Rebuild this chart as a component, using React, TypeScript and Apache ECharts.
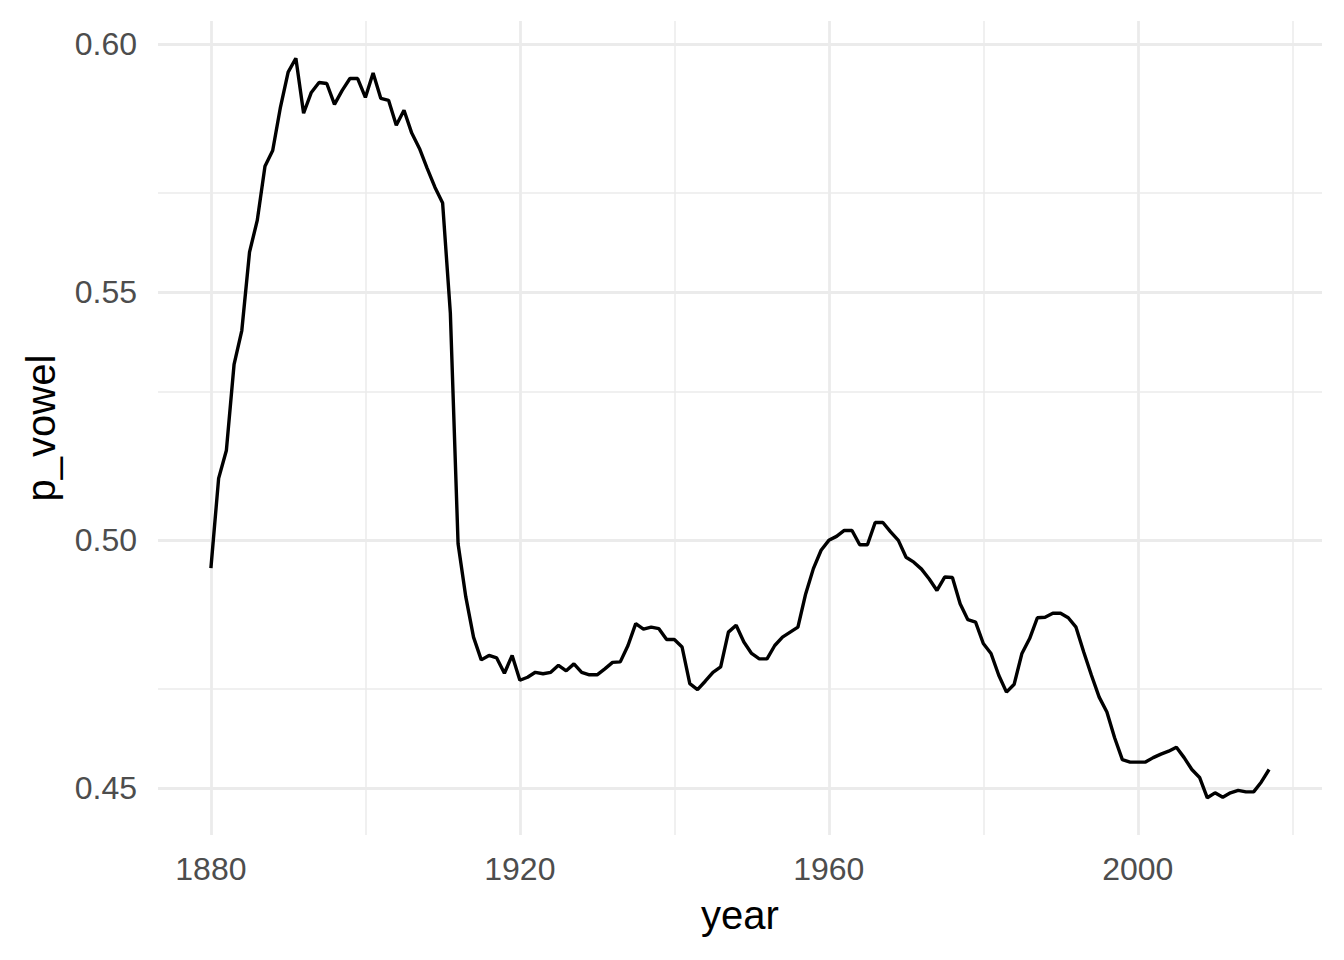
import React, { useEffect, useRef } from "react";
import * as echarts from "echarts";

const years = [
  1880, 1881, 1882, 1883, 1884, 1885, 1886, 1887, 1888, 1889,
  1890, 1891, 1892, 1893, 1894, 1895, 1896, 1897, 1898, 1899,
  1900, 1901, 1902, 1903, 1904, 1905, 1906, 1907, 1908, 1909,
  1910, 1911, 1912, 1913, 1914, 1915, 1916, 1917, 1918, 1919,
  1920, 1921, 1922, 1923, 1924, 1925, 1926, 1927, 1928, 1929,
  1930, 1931, 1932, 1933, 1934, 1935, 1936, 1937, 1938, 1939,
  1940, 1941, 1942, 1943, 1944, 1945, 1946, 1947, 1948, 1949,
  1950, 1951, 1952, 1953, 1954, 1955, 1956, 1957, 1958, 1959,
  1960, 1961, 1962, 1963, 1964, 1965, 1966, 1967, 1968, 1969,
  1970, 1971, 1972, 1973, 1974, 1975, 1976, 1977, 1978, 1979,
  1980, 1981, 1982, 1983, 1984, 1985, 1986, 1987, 1988, 1989,
  1990, 1991, 1992, 1993, 1994, 1995, 1996, 1997, 1998, 1999,
  2000, 2001, 2002, 2003, 2004, 2005, 2006, 2007, 2008, 2009,
  2010, 2011, 2012, 2013, 2014, 2015, 2016, 2017,
];

const pVowel = [
  0.4944, 0.5125, 0.5181, 0.5355, 0.5423, 0.5581, 0.5645, 0.5754, 0.5786, 0.5873,
  0.5944, 0.5972, 0.5861, 0.5903, 0.5923, 0.5921, 0.5879, 0.5907, 0.5931, 0.5931,
  0.5893, 0.5942, 0.5891, 0.5887, 0.5837, 0.5867, 0.5821, 0.579, 0.575, 0.5712,
  0.568, 0.5458, 0.4993, 0.4886, 0.4805, 0.4759, 0.4768, 0.4763, 0.4732, 0.4768,
  0.4718, 0.4724, 0.4734, 0.4731, 0.4734, 0.4748, 0.4737, 0.4751, 0.4734, 0.4729,
  0.4729, 0.4741, 0.4754, 0.4755, 0.4788, 0.4832, 0.4821, 0.4825, 0.4822, 0.48,
  0.48, 0.4785, 0.4711, 0.4699, 0.4716, 0.4734, 0.4745, 0.4815, 0.4829, 0.4795,
  0.4772, 0.4761, 0.4761, 0.4788, 0.4805, 0.4815, 0.4825, 0.4892, 0.4943, 0.498,
  0.5, 0.5008, 0.502, 0.502, 0.4991, 0.4991, 0.5036, 0.5036, 0.5017, 0.5,
  0.4966, 0.4956, 0.4942, 0.4922, 0.4899, 0.4926, 0.4925, 0.4872, 0.484, 0.4835,
  0.4792, 0.4772, 0.4728, 0.4694, 0.471, 0.4772, 0.4802, 0.4844, 0.4845, 0.4853,
  0.4853, 0.4844, 0.4825, 0.4775, 0.4728, 0.4684, 0.4654, 0.4602, 0.4558, 0.4553,
  0.4553, 0.4553, 0.4562, 0.4569, 0.4575, 0.4583, 0.4562, 0.4538, 0.4522, 0.4481,
  0.4491, 0.4482, 0.4491, 0.4496, 0.4493, 0.4493, 0.4513, 0.4538,
];

const xMajorTicks = [1880, 1920, 1960, 2000];
const xMinorTicks = [1900, 1940, 1980, 2020];
const yMajorTicks = [0.45, 0.5, 0.55, 0.6];
const yMinorTicks = [0.475, 0.525, 0.575];

const X_MIN = 1873.15;
const X_MAX = 2023.85;
const Y_MIN = 0.4406;
const Y_MAX = 0.6047;

const FONT = "'Liberation Sans', Arial, sans-serif";
const GRID_COLOR = "#ebebeb";

export default function App() {
  const ref = useRef<HTMLDivElement>(null);

  useEffect(() => {
    if (!ref.current) return;
    const chart = echarts.init(ref.current, undefined, { renderer: "svg" });

    const gridLines: any[] = [];
    xMajorTicks.forEach((v) =>
      gridLines.push({ xAxis: v, lineStyle: { color: GRID_COLOR, width: 2.8, type: "solid" } })
    );
    xMinorTicks.forEach((v) =>
      gridLines.push({ xAxis: v, lineStyle: { color: GRID_COLOR, width: 1.5, type: "solid" } })
    );
    yMajorTicks.forEach((v) =>
      gridLines.push({ yAxis: v, lineStyle: { color: GRID_COLOR, width: 2.8, type: "solid" } })
    );
    yMinorTicks.forEach((v) =>
      gridLines.push({ yAxis: v, lineStyle: { color: GRID_COLOR, width: 1.5, type: "solid" } })
    );

    const option: any = {
      animation: false,
      backgroundColor: "#ffffff",
      grid: {
        left: 158,
        right: 22,
        top: 21,
        bottom: 125,
        containLabel: false,
        outerBoundsMode: "none",
      },
      xAxis: {
        type: "value",
        min: X_MIN,
        max: X_MAX,
        name: "year",
        nameLocation: "middle",
        nameGap: 60,
        nameTextStyle: { color: "#000000", fontSize: 40, fontFamily: FONT },
        axisLine: { show: false },
        axisTick: { show: false },
        splitLine: { show: false },
        axisLabel: {
          customValues: xMajorTicks,
          color: "#4d4d4d",
          fontSize: 32,
          fontFamily: FONT,
          margin: 18,
          formatter: (v: number) => String(v),
        },
      },
      yAxis: {
        type: "value",
        min: Y_MIN,
        max: Y_MAX,
        name: "p_vowel",
        nameLocation: "middle",
        nameRotate: 90,
        nameGap: 97,
        nameTextStyle: { color: "#000000", fontSize: 40, fontFamily: FONT },
        axisLine: { show: false },
        axisTick: { show: false },
        splitLine: { show: false },
        axisLabel: {
          customValues: yMajorTicks,
          color: "#4d4d4d",
          fontSize: 32,
          fontFamily: FONT,
          margin: 21,
          formatter: (v: number) => v.toFixed(2),
        },
      },
      series: [
        {
          type: "line",
          data: [],
          z: 1,
          silent: true,
          markLine: {
            silent: true,
            symbol: ["none", "none"],
            label: { show: false },
            animation: false,
            data: gridLines,
          },
        },
        {
          type: "line",
          z: 5,
          data: years.map((y, i) => [y, pVowel[i]]),
          showSymbol: false,
          symbol: "none",
          lineStyle: { color: "#000000", width: 3.4 },
          silent: true,
        },
      ],
    };

    chart.setOption(option);
    return () => chart.dispose();
  }, []);

  return (
    <div
      ref={ref}
      style={{ position: "fixed", left: 0, top: 0, width: 1344, height: 960, background: "#fff" }}
    />
  );
}
